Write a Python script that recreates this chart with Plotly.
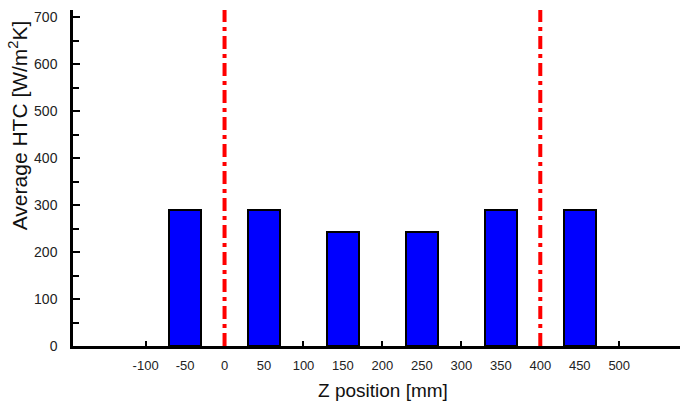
import plotly.graph_objects as go

positions = [-50, 50, 150, 250, 350, 450]
htc = [290, 290, 243, 243, 290, 290]
bar_width_mm = 40
ref_lines = [0, 400]
x_ticks = [-100, -50, 0, 50, 100, 150, 200, 250, 300, 350, 400, 450, 500]
y_ticks = [0, 100, 200, 300, 400, 500, 600, 700]

fig = go.Figure()
fig.add_trace(go.Bar(
    x=positions, y=htc, width=bar_width_mm,
    marker=dict(color="#0000FF", line=dict(color="black", width=2)),
    showlegend=False,
))
for xv in ref_lines:
    fig.add_trace(go.Scatter(
        x=[xv, xv], y=[0, 715], mode="lines",
        line=dict(color="#FF0000", width=4, dash="13px,5px,4px,5px"),
        showlegend=False,
    ))

font = dict(family="Liberation Sans, Arial, sans-serif", color="#222")
fig.update_layout(
    width=682, height=403,
    margin=dict(l=73, r=2, t=10, b=57, autoexpand=False),
    plot_bgcolor="white", paper_bgcolor="white",
    font=font,
    bargap=0,
)
fig.update_xaxes(
    range=[-192, 577], tickvals=x_ticks, ticktext=[str(v) for v in x_ticks],
    ticks="inside", ticklen=5, tickwidth=2, tickcolor="black",
    showline=True, linecolor="black", linewidth=2.5,
    showgrid=False, zeroline=False, layer="below traces",
    tickfont=dict(size=13, color="#222"), ticklabelstandoff=6,
    automargin=False,
)
fig.update_yaxes(
    range=[0, 715], tickvals=y_ticks,
    ticks="inside", ticklen=7, tickwidth=2, tickcolor="black",
    minor=dict(dtick=50, tick0=50, ticks="inside", ticklen=6, tickwidth=2, tickcolor="black"),
    showline=True, linecolor="black", linewidth=2.5,
    showgrid=False, zeroline=False,
    tickfont=dict(size=14, color="#222"), ticklabelstandoff=10,
    automargin=False,
)
fig.add_annotation(
    text="Z position [mm]", xref="paper", yref="paper", x=0.51, y=-0.131,
    xanchor="center", yanchor="middle", showarrow=False,
    font=dict(size=19, color="#111"),
)
fig.add_annotation(
    text="Average HTC [W/m<sup>2</sup>K]", xref="paper", yref="paper",
    x=-0.09, y=0.658, textangle=-90,
    xanchor="center", yanchor="middle", showarrow=False,
    font=dict(size=21, color="#111"),
)
fig.write_html("out.html", config={"displayModeBar": False},
               post_script="document.body.style.margin='0';")
